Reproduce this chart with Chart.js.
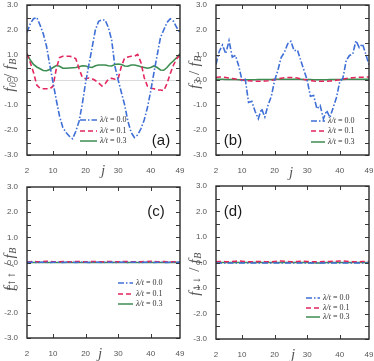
<!DOCTYPE html>
<html><head><meta charset="utf-8">
<script src="https://cdn.jsdelivr.net/npm/chart.js@4/dist/chart.umd.min.js"></script>
<style>
html,body{margin:0;padding:0;background:#fff;}
#wrap{position:relative;width:374px;height:361px;overflow:hidden;}
canvas{position:absolute;display:block;}
</style></head><body>
<div id="wrap">
<canvas id="c0" width="187" height="180" style="left:0;top:0"></canvas>
<canvas id="c1" width="187" height="180" style="left:187px;top:0"></canvas>
<canvas id="c2" width="187" height="181" style="left:0;top:180px"></canvas>
<canvas id="c3" width="187" height="181" style="left:187px;top:180px"></canvas>
</div>
<script>
// ---- data ----
const jSites = [2,3,4,5,6,7,8,9,10,11,12,13,14,15,16,17,18,19,20,21,22,23,24,25,26,27,28,29,30,31,32,33,34,35,36,37,38,39,40,41,42,43,44,45,46,47,48,49];
const xTickValues = [2,10,20,30,40,49];
const yTickValues = [-3,-2,-1,0,1,2,3];
const seriesLabels = ['λ/t = 0.0','λ/t = 0.1','λ/t = 0.3'];
const panelTags = ['(a)','(b)','(c)','(d)'];
const panelSubs = ['0','3','↑↑','↓↓'];

// panel (a): f0/fB
const fa_l00 = [1.9,2.25,2.45,2.5,2.2,1.85,1.35,0.6,-0.1,-0.8, -1.45,-1.9,-2.1,-2.25,-2.35,-2.05,-1.65,-0.95,-0.1,0.6, 1.3,2.0,2.35,2.4,2.4,2.1,1.6,0.55,0.0,-0.5, -1.0,-1.65,-2.1,-2.3,-2.2,-1.95,-1.6,-1.1,-0.45,0.3, 1.0,1.7,2.0,2.3,2.45,2.35,2.1,1.9];
const fa_l01 = [1.05,0.7,0.3,-0.2,-0.33,-0.35,-0.35,-0.35,-0.25,0.45, 0.9,0.95,0.95,0.95,0.93,0.85,0.45,0.1,0.05,0.08, 0.05,-0.02,-0.12,-0.24,-0.15,0.03,0.07,0.03,0.05,0.55, 0.88,0.92,0.95,0.95,1.02,0.7,0.1,-0.25,-0.33,-0.35, -0.4,-0.4,-0.43,-0.15,0.25,0.6,0.85,1.0];
const fa_l03 = [1.05,0.8,0.62,0.52,0.45,0.38,0.37,0.42,0.5,0.58, 0.55,0.47,0.47,0.48,0.49,0.5,0.53,0.57,0.56,0.52, 0.5,0.57,0.6,0.6,0.6,0.57,0.56,0.62,0.64,0.62, 0.56,0.55,0.6,0.6,0.57,0.53,0.5,0.47,0.5,0.56, 0.5,0.4,0.39,0.5,0.65,0.77,0.9,1.05];
// panel (b): f3/fB
const fb_l00 = [0.62,1.15,1.4,1.05,1.57,0.92,0.98,0.55,-0.02,0.03, -0.9,-0.85,-1.25,-1.55,-1.15,-1.48,-1.0,-0.65,-0.02,0.38, 0.9,1.1,1.44,1.55,1.17,1.2,0.8,0.4,0.0,-0.65, -0.62,-1.15,-1.02,-1.55,-1.22,-1.5,-1.1,-0.7,-0.08,0.08, 0.78,0.98,1.04,1.57,1.3,1.44,1.04,0.6];
const fb_l01 = [0.1,0.12,0.12,0.1,0.08,0.06,0.04,0.02,0.0,-0.02, -0.03,-0.04,-0.05,-0.05,-0.05,-0.04,-0.03,-0.01,0.01,0.04, 0.07,0.09,0.1,0.1,0.1,0.08,0.05,0.02,0.0,-0.02, -0.04,-0.05,-0.05,-0.05,-0.05,-0.04,-0.03,-0.01,0.01,0.04, 0.06,0.08,0.09,0.1,0.11,0.11,0.12,0.12];
const fb_l03 = [0.03,0.03,0.03,0.02,0.02,0.02,0.02,0.01,0.01,0.01, 0.01,0.01,0.01,0.02,0.02,0.02,0.02,0.02,0.03,0.03, 0.03,0.03,0.03,0.03,0.03,0.03,0.03,0.02,0.02,0.02, 0.01,0.01,0.01,0.01,0.01,0.02,0.02,0.02,0.02,0.02, 0.03,0.03,0.03,0.03,0.03,0.03,0.03,0.03];
// panel (c): f↑↑/fB
const fc_l00 = [0.01,0.01,0.01,0.0,0.01,0.01,0.01,0.0,0.01,0.01, 0.01,0.0,0.01,0.01,0.01,0.0,0.01,0.01,0.01,0.0, 0.01,0.01,0.01,0.0,0.01,0.01,0.01,0.0,0.01,0.01, 0.01,0.0,0.01,0.01,0.01,0.0,0.01,0.01,0.01,0.0, 0.01,0.01,0.01,0.0,0.01,0.01,0.01,0.01];
const fc_l01 = [0.03,0.03,0.04,0.03,0.03,0.04,0.05,0.04,0.03,0.03, 0.03,0.04,0.03,0.03,0.03,0.04,0.04,0.03,0.03,0.03, 0.04,0.04,0.03,0.03,0.03,0.04,0.04,0.03,0.03,0.03, 0.04,0.04,0.03,0.03,0.03,0.03,0.04,0.04,0.05,0.04, 0.03,0.03,0.04,0.03,0.03,0.03,0.03,0.03];
const fc_l03 = [0.0,0.0,0.0,0.0,0.0,0.0,0.0,0.0,0.0,0.0, 0.0,0.0,0.0,0.0,0.0,0.0,0.0,0.0,0.0,0.0, 0.0,0.0,0.0,0.0,0.0,0.0,0.0,0.0,0.0,0.0, 0.0,0.0,0.0,0.0,0.0,0.0,0.0,0.0,0.0,0.0, 0.0,0.0,0.0,0.0,0.0,0.0,0.0,0.0];
// panel (d): f↓↓/fB
const fd_l00 = [-0.02,-0.02,-0.02,-0.02,-0.02,-0.02,-0.02,-0.02,-0.02,-0.02, -0.02,-0.02,-0.02,-0.02,-0.02,-0.02,-0.02,-0.02,-0.02,-0.02, -0.02,-0.02,-0.02,-0.02,-0.02,-0.02,-0.02,-0.02,-0.02,-0.02, -0.02,-0.02,-0.02,-0.02,-0.02,-0.02,-0.02,-0.02,-0.02,-0.02, -0.02,-0.02,-0.02,-0.02,-0.02,-0.02,-0.02,-0.02];
const fd_l01 = [0.03,0.04,0.04,0.03,0.03,0.04,0.05,0.06,0.05,0.04, 0.03,0.03,0.03,0.04,0.04,0.03,0.03,0.03,0.04,0.05, 0.06,0.05,0.04,0.03,0.03,0.04,0.05,0.05,0.04,0.03, 0.03,0.03,0.03,0.04,0.04,0.04,0.05,0.05,0.06,0.06, 0.05,0.04,0.03,0.03,0.03,0.04,0.04,0.04];
const fd_l03 = [0.0,0.0,0.0,0.0,0.0,0.0,0.0,0.0,0.0,0.0, 0.0,0.0,0.0,0.0,0.0,0.0,0.0,0.0,0.0,0.0, 0.0,0.0,0.0,0.0,0.0,0.0,0.0,0.0,0.0,-0.01, -0.01,-0.02,-0.02,-0.01,0.0,0.0,0.0,0.0,0.0,0.0, 0.0,0.0,0.0,0.0,0.0,0.0,0.0,0.0];

const panelData = [[fa_l00,fa_l01,fa_l03],[fb_l00,fb_l01,fb_l03],[fc_l00,fc_l01,fc_l03],[fd_l00,fd_l01,fd_l03]];

// ---- styles ----
const seriesColors = ['#3f6fd6','#e2265e','#3d8d52'];
const seriesDash = [[6,2,1.5,2],[5,3],[]];

const layouts = [
  {pad:{left:0,right:7,top:5,bottom:0}, yw:27, xh:25, tag:[161,141], yt:[10,75], xt:[103,171], leg:{x:80,len:17,y:[120,131,141]}},
  {pad:{left:0,right:5,top:5,bottom:0}, yw:29, xh:25, tag:[46,141], yt:[8,72], xt:[104,173], leg:{x:124,len:14,y:[121,131,142]}},
  {pad:{left:0,right:7,top:7,bottom:0}, yw:27, xh:23, tag:[156,32], yt:[10,89], xt:[100,174], leg:{x:118,len:15,y:[103,114,124]}},
  {pad:{left:0,right:5,top:6,bottom:0}, yw:29, xh:22, tag:[46,32], yt:[8,94], xt:[106,175], leg:{x:119,len:14,y:[118,128,137]}}
];

const decor = {
  id:'decor',
  afterDatasetsDraw(chart, args, o){
    const ctx = chart.ctx, a = chart.chartArea, xs = chart.scales.x, ys = chart.scales.y;
    ctx.save();
    ctx.strokeStyle = '#3a3a3a';
    ctx.lineWidth = 1;
    // inward ticks
    ctx.beginPath();
    for (let v = -3; v <= 3.001; v += 0.5) {
      const py = Math.round(ys.getPixelForValue(v)) + 0.5;
      ctx.moveTo(a.left, py); ctx.lineTo(a.left + 4, py);
      ctx.moveTo(a.right, py); ctx.lineTo(a.right - 4, py);
    }
    xTickValues.slice(1, -1).forEach(v => {
      const px = Math.round(xs.getPixelForValue(v)) + 0.5;
      ctx.moveTo(px, a.bottom); ctx.lineTo(px, a.bottom - 4);
      ctx.moveTo(px, a.top); ctx.lineTo(px, a.top + 4);
    });
    ctx.stroke();
    // frame
    ctx.lineWidth = 1.4;
    ctx.strokeStyle = '#2a2a2a';
    ctx.strokeRect(a.left, a.top, a.right - a.left, a.bottom - a.top);
    // legend
    const L = o.layout.leg;
    chart.data.datasets.forEach((ds, i) => {
      const y = L.y[i];
      ctx.beginPath();
      ctx.strokeStyle = ds.borderColor;
      ctx.lineWidth = 1.5;
      ctx.setLineDash(ds.borderDash || []);
      ctx.moveTo(L.x, y); ctx.lineTo(L.x + L.len, y);
      ctx.stroke();
      ctx.setLineDash([]);
      const lab = ds.label, k = lab.indexOf(' =');
      ctx.fillStyle = '#333';
      ctx.textBaseline = 'middle';
      ctx.textAlign = 'left';
      let x = L.x + L.len + 3;
      ctx.font = 'italic 8px "Liberation Serif"';
      ctx.fillText(lab.slice(0, k), x, y);
      x += ctx.measureText(lab.slice(0, k)).width;
      ctx.font = '8px "Liberation Serif"';
      ctx.fillText(lab.slice(k), x, y);
    });
    // panel tag
    ctx.fillStyle = '#1a1a1a';
    ctx.font = '15px "Liberation Sans"';
    ctx.textAlign = 'center';
    ctx.textBaseline = 'middle';
    ctx.fillText(o.tag, o.layout.tag[0], o.layout.tag[1]);
    // x title
    ctx.fillStyle = '#555';
    ctx.font = 'italic 15px "Liberation Serif"';
    ctx.fillText('j', o.layout.xt[0], o.layout.xt[1]);
    // y title: f_sub / f_B
    const parts = [
      {t:'f', f:'italic 15px "Liberation Serif"', dy:0},
      {t:o.sub, f:(o.sub.length > 1 ? '9px "DejaVu Serif"' : 'italic 10px "Liberation Serif"'), dy:3},
      {t:' / ', f:'15px "Liberation Serif"', dy:0},
      {t:'f', f:'italic 15px "Liberation Serif"', dy:0},
      {t:'B', f:'italic 10px "Liberation Serif"', dy:3}
    ];
    let w = 0;
    parts.forEach(p => { ctx.font = p.f; p.w = ctx.measureText(p.t).width + 0.5; w += p.w; });
    ctx.translate(o.layout.yt[0], o.layout.yt[1]);
    ctx.rotate(-Math.PI / 2);
    ctx.textAlign = 'left';
    ctx.textBaseline = 'middle';
    let px = -w / 2;
    parts.forEach(p => { ctx.font = p.f; ctx.fillText(p.t, px, p.dy); px += p.w; });
    ctx.restore();
  }
};

panelData.forEach((series, pi) => {
  const lay = layouts[pi];
  new Chart(document.getElementById('c' + pi), {
    type: 'line',
    data: {
      datasets: series.map((arr, si) => ({
        label: seriesLabels[si],
        data: jSites.map((x, i) => ({x: x, y: arr[i]})),
        borderColor: seriesColors[si],
        borderDash: seriesDash[si],
        borderWidth: 1.6,
        pointRadius: 0,
        fill: false,
        tension: 0
      }))
    },
    options: {
      responsive: false,
      animation: false,
      devicePixelRatio: 1,
      layout: {padding: lay.pad},
      plugins: {
        legend: {display: false},
        tooltip: {enabled: false},
        decor: {layout: lay, tag: panelTags[pi], sub: panelSubs[pi]}
      },
      scales: {
        x: {
          type: 'linear', min: 2, max: 49,
          afterBuildTicks: s => { s.ticks = xTickValues.map(v => ({value: v})); },
          afterFit: s => { s.height = lay.xh; s.paddingLeft = 0; s.paddingRight = 0; },
          grid: {display: false},
          border: {display: false},
          ticks: {autoSkip: false, maxRotation: 0, padding: 3, color: '#555', font: {family: 'Liberation Sans', size: 8},
                  callback: v => String(v)}
        },
        y: {
          min: -3, max: 3,
          afterBuildTicks: s => { s.ticks = yTickValues.map(v => ({value: v})); },
          afterFit: s => { s.width = lay.yw; s.paddingTop = 0; s.paddingBottom = 0; },
          grid: {drawTicks: false, color: c => (c.tick && c.tick.value === 0) ? '#dcdcdc' : 'rgba(0,0,0,0)'},
          border: {display: false},
          ticks: {padding: 9, color: '#555', font: {family: 'Liberation Sans', size: 8},
                  callback: v => Number(v).toFixed(1)}
        }
      }
    },
    plugins: [decor]
  });
});
</script>
</body></html>
